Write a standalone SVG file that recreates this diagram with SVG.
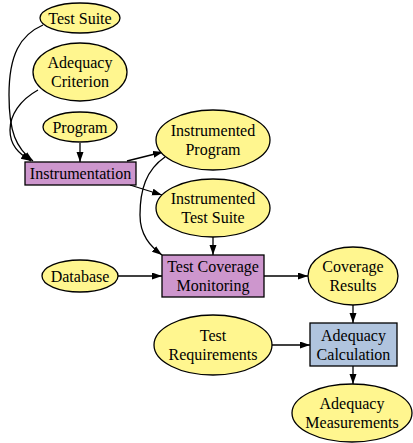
<svg xmlns="http://www.w3.org/2000/svg" width="413" height="443" viewBox="0 0 413 443">
<style>
.e{fill:#fff68f;stroke:#000;stroke-width:1.3}
.p{fill:#cd96cd;stroke:#000;stroke-width:1.3}
.b{fill:#b0c4de;stroke:#000;stroke-width:1.3}
text{font-family:"Liberation Serif","Times New Roman",serif;font-size:16px;fill:#000;text-anchor:middle}
.c path{fill:none;stroke:#000;stroke-width:1.3}
</style>
<defs>
<marker id="a" markerUnits="userSpaceOnUse" markerWidth="11" markerHeight="8" refX="10" refY="3.5" orient="auto">
<path d="M0,0 L10,3.5 L0,7 z" fill="#000"/>
</marker>
</defs>
<rect width="413" height="443" fill="#fff"/>
<g class="c" id="connectors">
<path d="M43,25 C20,35 9,55 9,95 C9,132 16,148 33,161" marker-end="url(#a)"/>
<path d="M38,90 C20,100 10,115 10,130 C10,145 18,153 31,161" marker-end="url(#a)"/>
<path d="M80,143 L80,162" marker-end="url(#a)"/>
<path d="M127,161 L163,152" marker-end="url(#a)"/>
<path d="M130,185 L162,195" marker-end="url(#a)"/>
<path d="M165,157 C146,170 140,190 140,215 C140,235 150,246 162,255" marker-end="url(#a)"/>
<path d="M213,237 L213,255" marker-end="url(#a)"/>
<path d="M118,276 L162,276" marker-end="url(#a)"/>
<path d="M264,276 L308,276" marker-end="url(#a)"/>
<path d="M353,305 L353,323" marker-end="url(#a)"/>
<path d="M272,345 L310,345" marker-end="url(#a)"/>
<path d="M353,366 L353,384" marker-end="url(#a)"/>
</g>
<g id="test-suite"><ellipse class="e" cx="80" cy="18" rx="40" ry="15"/><text x="80" y="23.5">Test Suite</text></g>
<g id="adequacy-criterion"><ellipse class="e" cx="80" cy="72" rx="47" ry="29"/><text x="80" y="68">Adequacy</text><text x="80" y="87">Criterion</text></g>
<g id="program"><ellipse class="e" cx="80" cy="127" rx="37" ry="15"/><text x="80" y="132.5">Program</text></g>
<g id="instrumentation"><rect class="p" x="25" y="162" width="111" height="23"/><text x="80.5" y="179">Instrumentation</text></g>
<g id="instrumented-program"><ellipse class="e" cx="213" cy="140" rx="57" ry="30"/><text x="213" y="136">Instrumented</text><text x="213" y="155">Program</text></g>
<g id="instrumented-test-suite"><ellipse class="e" cx="213" cy="208" rx="57" ry="29"/><text x="213" y="204">Instrumented</text><text x="213" y="223">Test Suite</text></g>
<g id="database"><ellipse class="e" cx="80" cy="276" rx="38" ry="16"/><text x="80" y="281.5">Database</text></g>
<g id="test-coverage-monitoring"><rect class="p" x="162" y="255" width="102" height="42"/><text x="213" y="272">Test Coverage</text><text x="213" y="291">Monitoring</text></g>
<g id="coverage-results"><ellipse class="e" cx="353" cy="276" rx="45" ry="29"/><text x="353" y="272">Coverage</text><text x="353" y="291">Results</text></g>
<g id="test-requirements"><ellipse class="e" cx="213" cy="345" rx="59" ry="30"/><text x="213" y="341">Test</text><text x="213" y="360">Requirements</text></g>
<g id="adequacy-calculation"><rect class="b" x="310" y="323" width="87" height="43"/><text x="353.5" y="341">Adequacy</text><text x="353.5" y="360">Calculation</text></g>
<g id="adequacy-measurements"><ellipse class="e" cx="352" cy="413" rx="60" ry="29"/><text x="352" y="409">Adequacy</text><text x="352" y="428">Measurements</text></g>
</svg>
